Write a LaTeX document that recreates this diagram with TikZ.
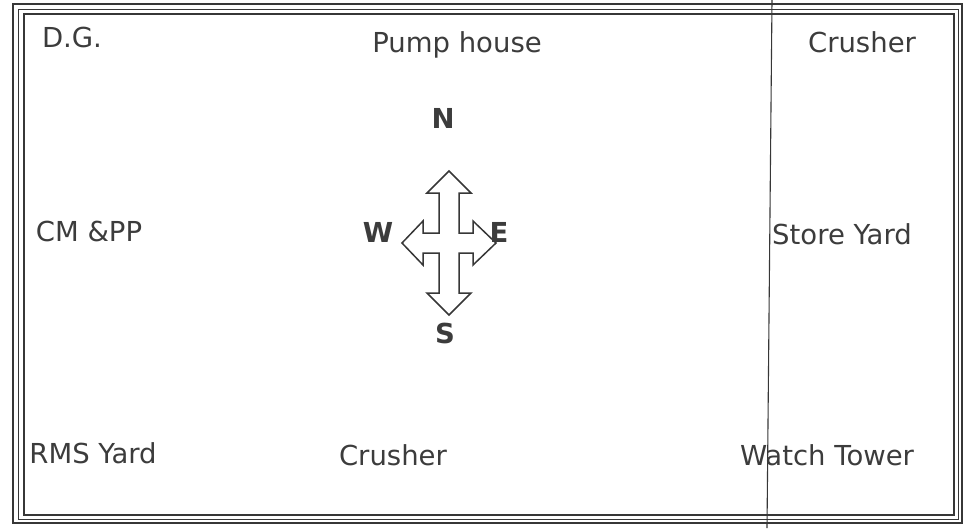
\documentclass[tikz,border=0pt]{standalone}
\usepackage{fontspec}
\setmainfont{DejaVu Sans}
\usepackage{xcolor}
\definecolor{inkcolor}{RGB}{60,60,60}
\definecolor{linecolor}{RGB}{55,55,55}

\begin{document}
\begin{tikzpicture}[
    x=1pt, y=-1pt,
    place/.style={anchor=base, text=inkcolor, inner sep=0pt, font=\fontsize{27.5}{33}\selectfont},
    compass/.style={place, font=\fontsize{27.5}{33}\selectfont\bfseries},
    frame/.style={draw=linecolor},
    arrowshape/.style={draw=linecolor, line width=1.5pt, line join=miter, fill=white}
]
\useasboundingbox (0,0) rectangle (965,528);

% border of the site
\draw [frame, line width=2.8pt] (13,4) rectangle (962,523);
\draw [frame, line width=1pt] (18,9) rectangle (958,519);
\draw [frame, line width=1.8pt] (24,14) rectangle (954,515);
\draw [frame, line width=1.1pt] (772,0) -- (767,528);

% places
\node (dg) [place] at (72,47) {D.G.};
\node (pump) [place] at (457,52) {Pump house};
\node (crushertop) [place] at (862,52) {Crusher};
\node (cmpp) [place] at (89,241) {CM \&PP};
\node (store) [place] at (842,244) {Store Yard};
\node (rms) [place] at (93,463) {RMS Yard};
\node (crusherbot) [place] at (393,465) {Crusher};
\node (watch) [place] at (827,465) {Watch Tower};

% compass
\draw [arrowshape, shift={(449,243)}]
    (0,-72) -- (22,-50) -- (10,-50) -- (10,-10) -- (24,-10) -- (24,-22) -- (47,0)
    -- (24,22) -- (24,10) -- (10,10) -- (10,50) -- (22,50) -- (0,72) -- (-22,50)
    -- (-10,50) -- (-10,10) -- (-26,10) -- (-26,22) -- (-47,0) -- (-26,-22)
    -- (-26,-10) -- (-10,-10) -- (-10,-50) -- (-22,-50) -- cycle;
\node (north) [compass] at (443,128) {N};
\node (west) [compass] at (378,242) {W};
\node (east) [compass] at (499,242) {E};
\node (south) [compass] at (445,343) {S};
\end{tikzpicture}
\end{document}
